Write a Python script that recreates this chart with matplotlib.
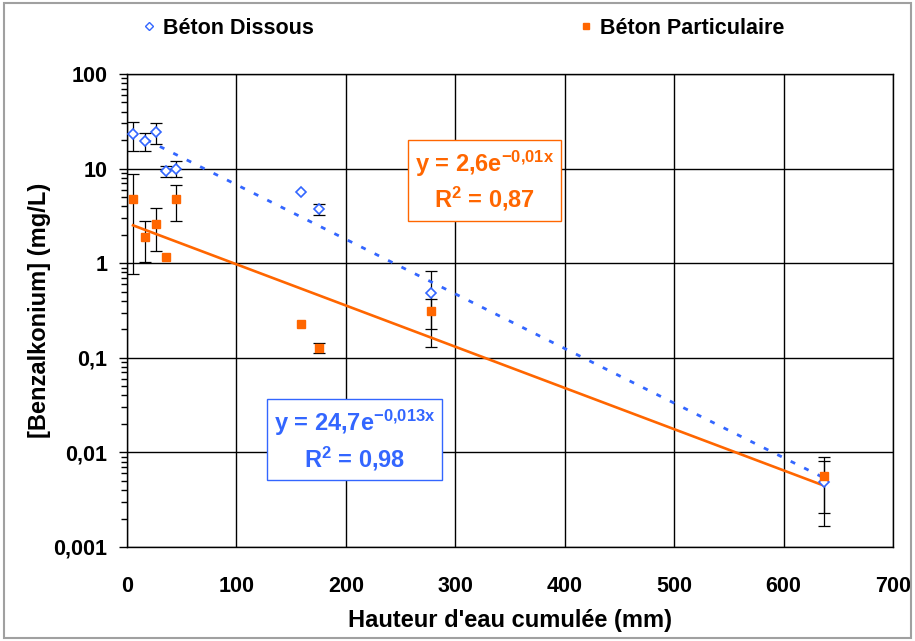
import numpy as np
import matplotlib
matplotlib.use("Agg")
import matplotlib.pyplot as plt
from matplotlib.patches import Rectangle
from matplotlib.lines import Line2D
from matplotlib.ticker import LogLocator, NullFormatter

# ================================================
# Data
# ================================================
hauteur = [5.5, 16, 26.5, 35.6, 45, 159, 175.5, 278, 637]

dissous = [23.2, 19.5, 24.4, 9.4, 10.0, 5.66, 3.74, 0.48, 0.00486]
dissous_err = [8.0, 4.3, 6.0, 1.2, 1.9, 0.0, 0.5, 0.35, 0.0032]

particulaire = [4.77, 1.89, 2.6, 1.16, 4.77, 0.228, 0.127, 0.31, 0.0056]
particulaire_err = [4.0, 0.87, 1.25, 0.0, 2.0, 0.0, 0.015, 0.11, 0.0033]

series_names = ["Béton Dissous", "Béton Particulaire"]
eq_dissous = ["y = 24,7e$^{-0{,}013x}$", "R$^2$ = 0,98"]
eq_particulaire = ["y = 2,6e$^{-0{,}01x}$", "R$^2$ = 0,87"]

x_ticks = [0, 100, 200, 300, 400, 500, 600, 700]
y_ticks = [0.001, 0.01, 0.1, 1, 10, 100]
y_tick_labels = ["0,001", "0,01", "0,1", "1", "10", "100"]

BLUE = "#3366FF"
ORANGE = "#FF6600"

# ================================================
# Style
# ================================================
plt.rcParams["font.family"] = ["Liberation Sans", "DejaVu Sans"]
plt.rcParams["font.weight"] = "bold"
plt.rcParams["mathtext.fontset"] = "custom"
plt.rcParams["mathtext.rm"] = "Liberation Sans:bold"
plt.rcParams["mathtext.it"] = "Liberation Sans:bold"
plt.rcParams["mathtext.bf"] = "Liberation Sans:bold"
plt.rcParams["mathtext.default"] = "regular"


def exp_fit(x, y):
    slope, inter = np.polyfit(np.asarray(x), np.log(np.asarray(y)), 1)
    xs = np.linspace(min(x), max(x), 200)
    return xs, np.exp(inter) * np.exp(slope * xs)


def draw_errors(ax, x, y, err):
    x, y, err = np.asarray(x), np.asarray(y), np.asarray(err)
    keep = err > 0
    ax.errorbar(x[keep], y[keep], yerr=err[keep], fmt="none", ecolor="black",
                elinewidth=0.9, capsize=4, capthick=0.9, zorder=2)


fig = plt.figure(figsize=(9.15, 6.41), dpi=100)
ax = fig.add_axes([127 / 915, 1 - 547 / 641, 766 / 915, 473 / 641])
ax.set_yscale("log")

# trend lines
xs, ys = exp_fit(hauteur, dissous)
ax.plot(xs, ys, color=BLUE, lw=2, linestyle=(0, (1.8, 3.6)), zorder=3)
xs, ys = exp_fit(hauteur, particulaire)
ax.plot(xs, ys, color=ORANGE, lw=1.9, zorder=3)

# error bars then markers
draw_errors(ax, hauteur, dissous, dissous_err)
draw_errors(ax, hauteur, particulaire, particulaire_err)
ax.plot(hauteur, dissous, "D", ms=5.2, mfc="white", mec=BLUE, mew=1.2,
        zorder=4)
ax.plot(hauteur, particulaire, "s", ms=6, mfc=ORANGE, mec=ORANGE, zorder=5)

# axes
ax.set_xlim(0, 700)
ax.set_ylim(0.001, 100)
ax.set_xticks(x_ticks)
ax.set_yticks(y_ticks, y_tick_labels)
ax.yaxis.set_minor_locator(LogLocator(base=10, subs=np.arange(2, 10)))
ax.yaxis.set_minor_formatter(NullFormatter())
ax.tick_params(axis="x", length=0, pad=21, labelsize=15.5)
ax.tick_params(axis="y", which="major", length=6, width=1, pad=8, labelsize=15.5)
ax.tick_params(axis="y", which="minor", length=4, width=1)
ax.grid(True, which="major", color="black", lw=1)
for s in ax.spines.values():
    s.set_color("black")
    s.set_linewidth(1)

ax.set_xlabel("Hauteur d'eau cumulée (mm)", fontsize=17, fontweight="bold")
ax.set_ylabel("[Benzalkonium] (mg/L)", fontsize=17, fontweight="bold")
ax.xaxis.label.set_va("center")
ax.xaxis.set_label_coords(0.5, (547 - 621) / 473)
ax.yaxis.label.set_va("center")
ax.yaxis.set_label_coords((39 - 127) / 766, 0.5)

# equation boxes
ax.text(0.467, 0.774, "\n".join(eq_particulaire), transform=ax.transAxes,
        ha="center", va="center", color=ORANGE, fontsize=17,
        linespacing=1.3, zorder=6,
        bbox=dict(boxstyle="square,pad=0.3", fc="white", ec=ORANGE, lw=1))
ax.text(0.297, 0.226, "\n".join(eq_dissous), transform=ax.transAxes,
        ha="center", va="center", color=BLUE, fontsize=17,
        linespacing=1.3, zorder=6,
        bbox=dict(boxstyle="square,pad=0.3", fc="white", ec=BLUE, lw=1))

# legend across the top
handles = [Line2D([], [], ls="none", marker="D", ms=4, mfc="white", mec=BLUE,
                  mew=1),
           Line2D([], [], ls="none", marker="s", ms=5, mfc=ORANGE, mec=ORANGE)]
fig.legend(handles=handles, labels=series_names, loc="center left",
           bbox_to_anchor=(142.5 / 915, 1 - 28 / 641), ncol=2, frameon=False,
           fontsize=15.5, handlelength=0.6, handletextpad=0.35,
           columnspacing=12.35, borderpad=0, borderaxespad=0)

# chart-area border
fig.add_artist(Rectangle((4 / 915, 3 / 641), 907 / 915, 635 / 641,
                         transform=fig.transFigure, fill=False,
                         ec="#A0A0A0", lw=1.5))

fig.savefig("out.png", dpi=100)
